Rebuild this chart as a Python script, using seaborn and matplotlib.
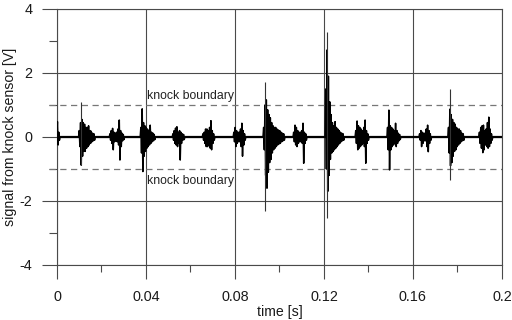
import pandas as pd
import matplotlib.pyplot as plt
import seaborn as sns

# knock sensor bursts: onset [s] and envelope columns [V]
burst_onset = [0.0002, 0.0100, 0.0238, 0.0377, 0.0521, 0.0656, 0.0795, 0.0929,
               0.1064, 0.1208, 0.1343, 0.1486, 0.1630, 0.1760, 0.1899]
burst_hi = [
    [0.48, 0.15],
    [0.2, 0.45, 0.55, 0.45, 0.4, 0.3, 0.3, 0.35, 0.2, 0.18, 0.12, 0.1],
    [0.1, 0.2, 0.27, 0.15, 0.12, 0.15, 0.25, 0.53, 0.2, 0.12, 0.08],
    [0.3, 0.88, 0.45, 0.35, 0.3, 0.25, 0.2, 0.37, 0.15, 0.12, 0.08],
    [0.1, 0.2, 0.28, 0.32, 0.15, 0.2, 0.15, 0.1, 0.08],
    [0.1, 0.15, 0.25, 0.25, 0.2, 0.3, 0.51, 0.2, 0.1],
    [0.15, 0.3, 0.2, 0.15, 0.15, 0.25, 0.43, 0.2, 0.1],
    [0.3, 1.0, 1.16, 0.85, 0.7, 0.6, 0.45, 0.35, 0.3, 0.3, 0.25, 0.22, 0.2, 0.15, 0.12, 0.1],
    [0.15, 0.37, 0.3, 0.2, 0.15, 0.15, 0.2, 0.43, 0.15, 0.1],
    [1.5, 2.72, 1.9, 1.1, 0.7, 0.45, 0.35, 0.48, 0.3, 0.25, 0.2, 0.15, 0.12, 0.1],
    [0.2, 0.5, 0.35, 0.3, 0.25, 0.2, 0.3, 0.53, 0.2, 0.1],
    [0.3, 0.84, 0.35, 0.3, 0.25, 0.2, 0.43, 0.2, 0.12, 0.08],
    [0.1, 0.2, 0.15, 0.12, 0.12, 0.25, 0.37, 0.2, 0.1],
    [0.3, 0.87, 0.7, 0.55, 0.45, 0.4, 0.3, 0.25, 0.25, 0.2, 0.12, 0.1],
    [0.15, 0.3, 0.35, 0.37, 0.2, 0.25, 0.45, 0.62, 0.25, 0.1],
]
burst_lo = [
    [-0.25, -0.1],
    [-0.3, -0.88, -0.6, -0.45, -0.45, -0.35, -0.3, -0.25, -0.2, -0.15, -0.12, -0.1],
    [-0.1, -0.2, -0.4, -0.15, -0.12, -0.15, -0.25, -0.72, -0.3, -0.12, -0.08],
    [-0.5, -1.08, -0.6, -0.45, -0.35, -0.3, -0.25, -0.2, -0.15, -0.12, -0.08],
    [-0.1, -0.2, -0.25, -0.3, -0.2, -0.72, -0.2, -0.1, -0.08],
    [-0.1, -0.2, -0.3, -0.3, -0.25, -0.35, -0.4, -0.2, -0.1],
    [-0.15, -0.3, -0.2, -0.15, -0.15, -0.3, -0.6, -0.25, -0.1],
    [-0.4, -1.2, -1.6, -1.1, -0.8, -0.7, -0.5, -0.4, -0.35, -0.3, -0.25, -0.22, -0.2, -0.15, -0.12, -0.1],
    [-0.15, -0.25, -0.3, -0.2, -0.15, -0.15, -0.2, -0.82, -0.2, -0.1],
    [-1.0, -1.7, -1.2, -0.7, -0.5, -0.45, -0.4, -0.35, -0.3, -0.25, -0.2, -0.15, -0.12, -0.1],
    [-0.2, -0.4, -0.35, -0.3, -0.25, -0.2, -0.3, -0.82, -0.2, -0.1],
    [-0.4, -1.03, -0.4, -0.3, -0.25, -0.2, -0.3, -0.2, -0.12, -0.08],
    [-0.1, -0.3, -0.2, -0.12, -0.12, -0.3, -0.46, -0.2, -0.1],
    [-0.5, -0.9, -0.8, -0.6, -0.45, -0.4, -0.3, -0.25, -0.2, -0.15, -0.12, -0.1],
    [-0.2, -0.35, -0.49, -0.4, -0.25, -0.3, -0.35, -0.3, -0.2, -0.1],
]
col_step = 0.0006

# thin single-sample peaks above the bursts
spike_t = [0.0108, 0.0936, 0.1212, 0.1767]
spike_hi = [1.08, 1.73, 3.29, 1.49]
spike_lo = [-0.88, -2.3, -2.54, -1.34]

knock_level = 1.0

x_ticks = [0, 0.04, 0.08, 0.12, 0.16, 0.2]
x_tick_labels = ['0', '0.04', '0.08', '0.12', '0.16', '0.2']
x_minor = [0.02, 0.06, 0.10, 0.14, 0.18]
y_ticks = [-4, -2, 0, 2, 4]
y_tick_labels = ['-4', '-2', '0', '2', '4']
y_minor = [-3, -1, 1, 3]

rows = []
for b, (t0, hi, lo) in enumerate(zip(burst_onset, burst_hi, burst_lo)):
    rows.append((b, t0 - col_step / 2, 0.0))
    for i, (h, l) in enumerate(zip(hi, lo)):
        rows.append((b, t0 + i * col_step, h))
        rows.append((b, t0 + i * col_step + col_step / 2, l))
    rows.append((b, t0 + len(hi) * col_step, 0.0))
df = pd.DataFrame(rows, columns=['burst', 't', 'v'])

sns.set_theme(style="white")
plt.rcParams['font.family'] = ['Liberation Sans', 'DejaVu Sans']

grid_c = '#4a4a4a'
text_c = '#1a1a1a'
fig = plt.figure(figsize=(5.12, 3.2), dpi=100)
ax = fig.add_axes([0.1113, 0.1719, 0.869, 0.8])

# noisy baseline
ax.hlines(0, 0, 0.2, color='black', lw=1.6, zorder=3)
sns.lineplot(data=df, x='t', y='v', units='burst', estimator=None, sort=False,
             color='black', lw=1.1, ax=ax, zorder=4)
ax.vlines(spike_t, spike_lo, spike_hi, color='#333333', lw=0.8, zorder=4)

for lev in (knock_level, -knock_level):
    ax.plot([-0.0036, 0.2], [lev, lev], color='#777777', lw=0.9,
            dashes=(5, 3.6), clip_on=False, zorder=2)
ax.text(0.0404, 1.28, 'knock boundary', fontsize=8.8, color='#222222', ha='left', va='center')
ax.text(0.0404, -1.375, 'knock boundary', fontsize=8.8, color='#222222', ha='left', va='center')

ax.set_xlim(0, 0.2)
ax.set_ylim(-4, 4)
ax.set_xticks(x_ticks, labels=x_tick_labels)
ax.set_xticks(x_minor, minor=True)
ax.set_yticks(y_ticks, labels=y_tick_labels)
ax.set_yticks(y_minor, minor=True)
ax.grid(True, which='major', color=grid_c, lw=0.8)
for s in ax.spines.values():
    s.set_color(grid_c)
    s.set_linewidth(0.8)
ax.tick_params(axis='y', which='major', direction='out', length=10.8, width=0.8,
               color=grid_c, pad=7, labelsize=10.4, labelcolor=text_c, left=True)
ax.tick_params(axis='y', which='minor', direction='out', length=5.8, width=0.8,
               color=grid_c, left=True)
ax.tick_params(axis='x', which='major', direction='out', length=10, width=0.8,
               color=grid_c, pad=8, labelsize=10.4, labelcolor=text_c, bottom=True)
ax.tick_params(axis='x', which='minor', direction='out', length=5, width=0.8,
               color=grid_c, bottom=True)
ax.set_xlabel('time [s]', fontsize=10.2, color=text_c, labelpad=0.5)
ax.set_ylabel('signal from knock sensor [V]', fontsize=10.2, color=text_c, labelpad=1.5)

fig.savefig('out.png', dpi=100)
